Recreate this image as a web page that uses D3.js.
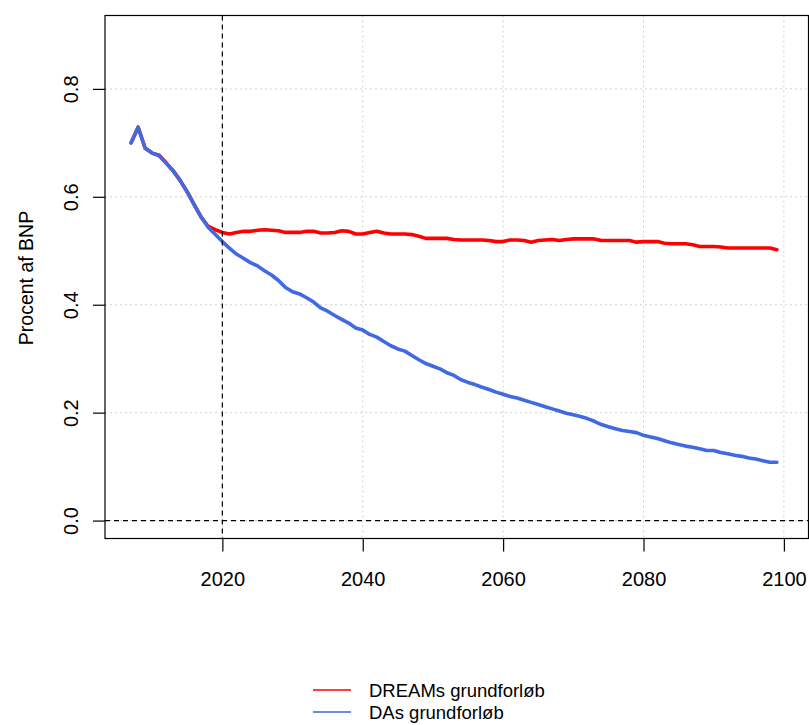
<!DOCTYPE html>
<html>
<head>
<meta charset="utf-8">
<script src="https://cdn.jsdelivr.net/npm/d3@7"></script>
<style>
  body { margin: 0; background: #fff; }
  svg { display: block; font-family: "Liberation Sans", Arial, sans-serif; }
</style>
</head>
<body>
<div id="chart"></div>
<script>
// years 2007..2099
const years = d3.range(2007, 2100);

// DREAMs grundforløb (red)
const dreamValues = [
  0.700, 0.729, 0.690, 0.681, 0.677, 0.663, 0.648, 0.630, 0.609, 0.585,
  0.562, 0.545, 0.539, 0.534, 0.531, 0.534, 0.536, 0.536, 0.538, 0.539,
  0.538, 0.537, 0.534, 0.534, 0.534, 0.536, 0.536, 0.533, 0.533, 0.534,
  0.537, 0.536, 0.531, 0.531, 0.534, 0.536, 0.533, 0.531, 0.531, 0.531,
  0.530, 0.527, 0.523, 0.523, 0.523, 0.523, 0.521, 0.520, 0.520, 0.520,
  0.520, 0.519, 0.517, 0.517, 0.520, 0.520, 0.519, 0.516, 0.519, 0.520,
  0.521, 0.519, 0.521, 0.522, 0.522, 0.522, 0.522, 0.519, 0.519, 0.519,
  0.519, 0.519, 0.516, 0.517, 0.517, 0.517, 0.514, 0.513, 0.513, 0.513,
  0.511, 0.508, 0.508, 0.508, 0.507, 0.505, 0.505, 0.505, 0.505, 0.505,
  0.505, 0.505, 0.502
];

// DAs grundforløb (blue)
const daValues = [
  0.700, 0.729, 0.690, 0.681, 0.676, 0.662, 0.648, 0.630, 0.609, 0.585,
  0.562, 0.543, 0.530, 0.517, 0.505, 0.494, 0.486, 0.478, 0.472, 0.463,
  0.455, 0.445, 0.432, 0.424, 0.420, 0.413, 0.405, 0.394, 0.388, 0.380,
  0.373, 0.366, 0.357, 0.353, 0.345, 0.340, 0.332, 0.324, 0.318, 0.314,
  0.306, 0.298, 0.291, 0.286, 0.281, 0.274, 0.269, 0.261, 0.256, 0.252,
  0.247, 0.243, 0.238, 0.234, 0.230, 0.227, 0.223, 0.219, 0.215, 0.211,
  0.207, 0.203, 0.199, 0.196, 0.193, 0.189, 0.184, 0.178, 0.174, 0.170,
  0.167, 0.165, 0.163, 0.158, 0.155, 0.152, 0.148, 0.144, 0.141, 0.138,
  0.136, 0.133, 0.130, 0.130, 0.126, 0.124, 0.121, 0.119, 0.116, 0.114,
  0.111, 0.108, 0.108
];

const xTicks = [2020, 2040, 2060, 2080, 2100];
const yTicks = [0.0, 0.2, 0.4, 0.6, 0.8];
const seriesNames = ["DREAMs grundforløb", "DAs grundforløb"];
const seriesColors = ["#ff0000", "#4169e1"];

const width = 809, height = 725;
const box = { left: 105, right: 808.5, top: 15.5, bottom: 538.5 };

// R style 4% axis expansion
const xlim = [2007, 2100], ylim = [0, 0.9];
const xe = (xlim[1] - xlim[0]) * 0.04, ye = (ylim[1] - ylim[0]) * 0.04;

const x = d3.scaleLinear()
  .domain([xlim[0] - xe, xlim[1] + xe])
  .range([box.left, box.right + 1.5]);
const y = d3.scaleLinear()
  .domain([ylim[0] - ye, ylim[1] + ye])
  .range([box.bottom + 1.5, box.top]);

const svg = d3.select("#chart")
  .append("svg")
  .attr("width", width)
  .attr("height", height);

const fontSize = 20;

// grid (dotted)
const grid = svg.append("g").attr("stroke", "#d3d3d3").attr("stroke-width", 1)
  .attr("stroke-dasharray", "2,3");
grid.selectAll(".gx").data(xTicks).enter().append("line")
  .attr("x1", d => x(d)).attr("x2", d => x(d))
  .attr("y1", box.top).attr("y2", box.bottom);
grid.selectAll(".gy").data(yTicks).enter().append("line")
  .attr("y1", d => y(d)).attr("y2", d => y(d))
  .attr("x1", box.left).attr("x2", box.right);

// data lines
const line = d3.line().x((d, i) => x(years[i])).y(d => y(d));
[dreamValues, daValues].forEach(function(vals, i) {
  svg.append("path")
    .datum(vals)
    .attr("d", line)
    .attr("fill", "none")
    .attr("stroke", seriesColors[i])
    .attr("stroke-width", 3.6)
    .attr("stroke-linejoin", "round")
    .attr("stroke-linecap", "round");
});

// reference lines (dashed)
svg.append("line")
  .attr("x1", x(2020)).attr("x2", x(2020))
  .attr("y1", box.top).attr("y2", box.bottom)
  .attr("stroke", "#000").attr("stroke-width", 1.2)
  .attr("stroke-dasharray", "5,4");
svg.append("line")
  .attr("x1", box.left).attr("x2", box.right)
  .attr("y1", y(0)).attr("y2", y(0))
  .attr("stroke", "#000").attr("stroke-width", 1.2)
  .attr("stroke-dasharray", "5,4");

// box
svg.append("rect")
  .attr("x", box.left).attr("y", box.top)
  .attr("width", box.right - box.left).attr("height", box.bottom - box.top)
  .attr("fill", "none").attr("stroke", "#000").attr("stroke-width", 1.2);

// x axis
const xAxis = svg.append("g")
  .attr("transform", `translate(0,${box.bottom})`)
  .call(d3.axisBottom(x).tickValues(xTicks).tickSize(13)
    .tickFormat(d3.format("d")));
xAxis.select(".domain").remove();
xAxis.selectAll(".tick line").attr("stroke", "#000").attr("stroke-width", 1.2);
xAxis.selectAll("text")
  .attr("font-size", fontSize).attr("fill", "#000")
  .attr("font-family", "Liberation Sans, Arial, sans-serif")
  .attr("dy", null).attr("y", 47.5);

// y axis (labels rotated like R las=0)
const yAxis = svg.append("g")
  .attr("transform", `translate(${box.left},0)`)
  .call(d3.axisLeft(y).tickValues(yTicks).tickSize(12).tickFormat(d3.format(".1f")));
yAxis.select(".domain").remove();
yAxis.selectAll(".tick line").attr("stroke", "#000").attr("stroke-width", 1.2);
yAxis.selectAll("text")
  .attr("font-size", fontSize).attr("fill", "#000")
  .attr("font-family", "Liberation Sans, Arial, sans-serif")
  .attr("x", null).attr("dy", null)
  .attr("text-anchor", "middle")
  .attr("transform", "translate(-27,0) rotate(-90)");

// y label
svg.append("text")
  .attr("transform", `translate(33,${(box.top + box.bottom) / 2 + 1}) rotate(-90)`)
  .attr("text-anchor", "middle")
  .attr("font-size", 19.5)
  .text("Procent af BNP");

// legend
const legend = svg.append("g");
seriesNames.forEach(function(name, i) {
  const ly = 690 + i * 22;
  legend.append("line")
    .attr("x1", 313).attr("x2", 351)
    .attr("y1", ly).attr("y2", ly)
    .attr("stroke", seriesColors[i]).attr("stroke-width", 1.5);
  legend.append("text")
    .attr("x", 369).attr("y", ly + 7)
    .attr("font-size", 18.5)
    .text(name);
});
</script>
</body>
</html>
